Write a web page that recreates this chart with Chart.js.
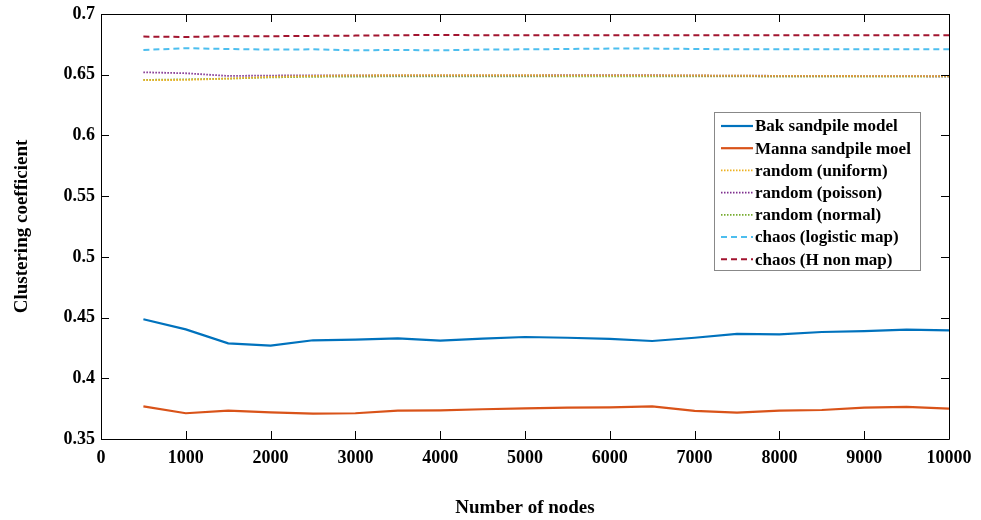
<!DOCTYPE html>
<html>
<head>
<meta charset="utf-8">
<script src="https://cdn.jsdelivr.net/npm/chart.js@4.4.1/dist/chart.umd.min.js"></script>
<style>
  html, body { margin: 0; padding: 0; background: #fff; }
  #wrap { width: 981px; height: 520px; position: relative; }
</style>
</head>
<body>
<div id="wrap"><canvas id="clusterChart"></canvas></div>
<script>
const nodes = [500, 1000, 1500, 2000, 2500, 3000, 3500, 4000, 4500, 5000,
    5500, 6000, 6500, 7000, 7500, 8000, 8500, 9000, 9500, 10000];

const bak = [0.4486, 0.4403, 0.4288, 0.4269, 0.4313, 0.4318, 0.4329, 0.4310, 0.4326, 0.4340,
    0.4334, 0.4324, 0.4307, 0.4334, 0.4365, 0.4362, 0.4381, 0.4389, 0.4400, 0.4395];
const manna = [0.3769, 0.3712, 0.3733, 0.3720, 0.3709, 0.3712, 0.3733, 0.3736, 0.3745, 0.3753,
    0.3758, 0.3761, 0.3769, 0.3731, 0.3717, 0.3733, 0.3739, 0.3758, 0.3764, 0.3750];
const uniform = [0.6455, 0.6457, 0.6468, 0.6482, 0.6490, 0.6495, 0.6496, 0.6497, 0.6497, 0.6496,
    0.6495, 0.6495, 0.6494, 0.6494, 0.6492, 0.6490, 0.6490, 0.6489, 0.6488, 0.6488];
const poisson = [0.6520, 0.6512, 0.6490, 0.6493, 0.6495, 0.6495, 0.6495, 0.6495, 0.6495, 0.6495,
    0.6496, 0.6497, 0.6496, 0.6494, 0.6492, 0.6491, 0.6490, 0.6489, 0.6488, 0.6487];
const normal = [0.6457, 0.6462, 0.6468, 0.6478, 0.6483, 0.6485, 0.6486, 0.6486, 0.6486, 0.6486,
    0.6486, 0.6486, 0.6486, 0.6486, 0.6486, 0.6485, 0.6485, 0.6484, 0.6484, 0.6484];
const logistic = [0.6704, 0.6718, 0.6712, 0.6707, 0.6709, 0.6701, 0.6704, 0.6701, 0.6707, 0.6709,
    0.6712, 0.6715, 0.6715, 0.6712, 0.6709, 0.6709, 0.6709, 0.6709, 0.6709, 0.6709];
const henon = [0.6814, 0.6811, 0.6817, 0.6817, 0.6820, 0.6822, 0.6825, 0.6828, 0.6825, 0.6825,
    0.6825, 0.6826, 0.6826, 0.6826, 0.6826, 0.6826, 0.6826, 0.6826, 0.6826, 0.6826];

const seriesNames = ['Bak sandpile model', 'Manna sandpile moel', 'random (uniform)',
    'random (poisson)', 'random (normal)', 'chaos (logistic map)', 'chaos (H non map)'];

const serif = '"Liberation Serif", "Times New Roman", serif';

function toPoints(values) {
    return values.map((v, i) => ({x: nodes[i], y: v}));
}

function makeSet(label, values, color, dash, width) {
    return {
        label: label,
        data: toPoints(values),
        borderColor: color,
        backgroundColor: color,
        borderWidth: width,
        borderDash: dash,
        pointRadius: 0,
        fill: false,
        tension: 0
    };
}

// MATLAB style box with ticks pointing inward
const boxPlugin = {
    id: 'boxPlugin',
    afterDatasetsDraw(chart) {
        const {ctx, chartArea: a, scales: {x, y}} = chart;
        const len = 8;
        ctx.save();
        ctx.strokeStyle = '#000';
        ctx.lineWidth = 1;
        ctx.setLineDash([]);
        ctx.beginPath();
        ctx.rect(Math.round(a.left) + 0.5, Math.round(a.top) + 0.5,
            Math.round(a.right - a.left), Math.round(a.bottom - a.top));
        x.ticks.forEach(t => {
            const px = Math.round(x.getPixelForValue(t.value)) + 0.5;
            ctx.moveTo(px, a.bottom);
            ctx.lineTo(px, a.bottom - len);
            ctx.moveTo(px, a.top);
            ctx.lineTo(px, a.top + len);
        });
        y.ticks.forEach(t => {
            const py = Math.round(y.getPixelForValue(t.value)) + 0.5;
            ctx.moveTo(a.left, py);
            ctx.lineTo(a.left + len, py);
            ctx.moveTo(a.right, py);
            ctx.lineTo(a.right - len, py);
        });
        ctx.stroke();
        ctx.restore();
    }
};

// legend box inside the plot area
const legendPlugin = {
    id: 'legendPlugin',
    afterDraw(chart) {
        const ctx = chart.ctx;
        const bx = 714, by = 112, bw = 206, bh = 158;
        const rowH = 22.2;
        ctx.save();
        ctx.fillStyle = '#fff';
        ctx.fillRect(bx, by, bw, bh);
        ctx.strokeStyle = '#888';
        ctx.lineWidth = 1;
        ctx.setLineDash([]);
        ctx.strokeRect(bx + 0.5, by + 0.5, bw, bh);
        ctx.font = 'bold 17px ' + serif;
        ctx.textBaseline = 'middle';
        chart.data.datasets.forEach((ds, i) => {
            const cy = by + 14 + i * rowH;
            ctx.strokeStyle = ds.borderColor;
            ctx.lineWidth = ds.borderWidth;
            ctx.setLineDash(ds.borderDash || []);
            ctx.beginPath();
            ctx.moveTo(bx + 7, cy);
            ctx.lineTo(bx + 39, cy);
            ctx.stroke();
            ctx.fillStyle = '#000';
            ctx.fillText(ds.label, bx + 41, cy + 1);
        });
        ctx.restore();
    }
};

const ctx = document.getElementById('clusterChart');

new Chart(ctx, {
    type: 'line',
    data: {
        datasets: [
            makeSet(seriesNames[0], bak, '#0072BD', [], 2.2),
            makeSet(seriesNames[1], manna, '#D95319', [], 2.2),
            makeSet(seriesNames[2], uniform, '#EDB120', [1.5, 1.5], 1.8),
            makeSet(seriesNames[3], poisson, '#7E2F8E', [1.5, 1.5], 1.8),
            makeSet(seriesNames[4], normal, '#77AC30', [1.5, 1.5], 1.8),
            makeSet(seriesNames[5], logistic, '#4DBEEE', [6, 4], 2),
            makeSet(seriesNames[6], henon, '#A2142F', [6, 4], 2)
        ]
    },
    options: {
        responsive: true,
        maintainAspectRatio: false,
        animation: false,
        layout: {
            padding: {left: 0, right: 32, top: 14, bottom: 0}
        },
        plugins: {
            legend: {display: false},
            tooltip: {enabled: false}
        },
        scales: {
            x: {
                type: 'linear',
                min: 0,
                max: 10000,
                grid: {display: false, drawTicks: false},
                border: {display: false},
                ticks: {
                    stepSize: 1000,
                    padding: 9,
                    maxRotation: 0,
                    color: '#000',
                    font: {family: serif, size: 18, weight: 'bold'},
                    callback: v => String(v)
                },
                title: {
                    display: true,
                    text: 'Number of nodes',
                    color: '#000',
                    font: {family: serif, size: 19, weight: 'bold'},
                    padding: {top: 0, bottom: 1}
                },
                afterFit(scale) {
                    scale.height = 81;
                    scale.paddingLeft = 0;
                    scale.paddingRight = 0;
                }
            },
            y: {
                min: 0.35,
                max: 0.7,
                grid: {display: false, drawTicks: false},
                border: {display: false},
                ticks: {
                    stepSize: 0.05,
                    padding: 6,
                    color: '#000',
                    font: {family: serif, size: 18, weight: 'bold'},
                    callback: v => String(Number(v.toFixed(2)))
                },
                title: {
                    display: true,
                    text: 'Clustering coefficient',
                    color: '#000',
                    font: {family: serif, size: 19, weight: 'bold'},
                    padding: {top: 11, bottom: 0}
                },
                afterFit(scale) {
                    scale.width = 101;
                    scale.paddingTop = 0;
                    scale.paddingBottom = 0;
                }
            }
        }
    },
    plugins: [boxPlugin, legendPlugin]
});
</script>
</body>
</html>
